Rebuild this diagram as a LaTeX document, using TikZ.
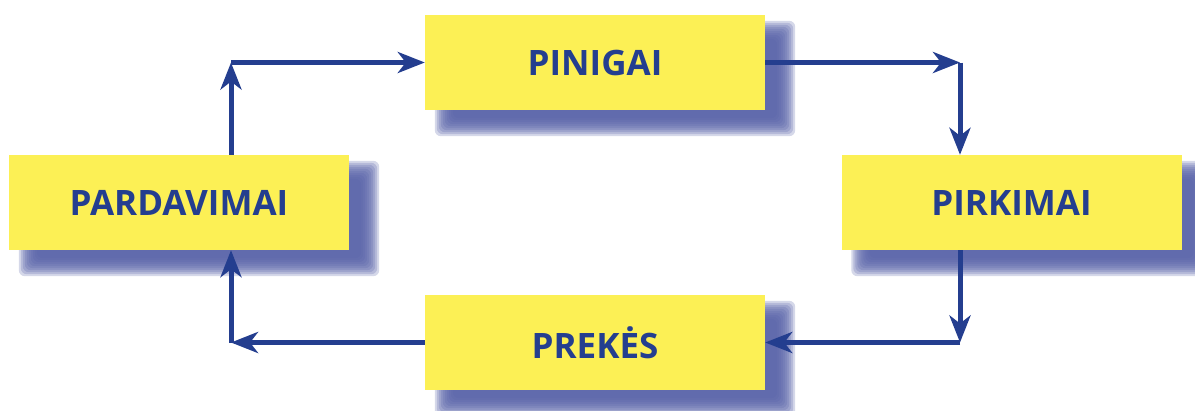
\documentclass[tikz,border=0pt]{standalone}
\usepackage{fontspec}
\setmainfont{Open Sans}
\usetikzlibrary{arrows.meta,calc,backgrounds}
\definecolor{cyclblue}{RGB}{36,62,143}
\definecolor{cyclyellow}{RGB}{252,240,85}
\definecolor{cyclshade}{RGB}{88,98,168}

\begin{document}
\begin{tikzpicture}[x=1pt,y=-1pt,
  stage/.style={fill=cyclyellow, minimum width=340pt, minimum height=95pt, inner sep=0pt,
    font=\fontsize{35}{40}\selectfont\bfseries, text=cyclblue},
  flow/.style={draw=cyclblue, line width=5pt},
  >={Stealth[length=27pt, width=21pt, inset=8pt]}]
  \useasboundingbox (0,0) rectangle (1195,410);
  \node[stage] (pin) at (595,62.5) {PINIGAI};
  \node[stage] (pard) at (179,202.5) {PARDAVIMAI};
  \node[stage] (pirk) at (1011.5,202.5) {PIRKIMAI};
  \node[stage] (prek) at (595,342.5) {PREKĖS};
  % soft shadows, stacked see-through rectangles
  \begin{scope}[on background layer]
    \foreach \n in {pin,pard,pirk,prek}
      \foreach \e in {10,8,6,4,2,0,-2,-4,-6,-8}
        \fill[cyclshade, opacity=0.25, rounded corners=6pt]
          ($(\n.north west)+(20-\e,16-\e)$) rectangle ($(\n.south east)+(20+\e,16+\e)$);
  \end{scope}
  % corners of the loop
  \coordinate (tl) at (231,62.5);
  \coordinate (tr) at (960,62.5);
  \coordinate (br) at (960,342.5);
  \coordinate (bl) at (231,342.5);
  \draw[flow,->] (tl |- pard.north) -- (tl);
  \draw[flow,->] (tl) -- (pin.west);
  \draw[flow,->] (pin.east) -- (tr);
  \draw[flow,->] (tr) -- (tr |- pirk.north);
  \draw[flow,->] (br |- pirk.south) -- (br);
  \draw[flow,->] (br) -- (prek.east);
  \draw[flow,->] (prek.west) -- (bl);
  \draw[flow,->] (bl) -- (bl |- pard.south);
\end{tikzpicture}
\end{document}
